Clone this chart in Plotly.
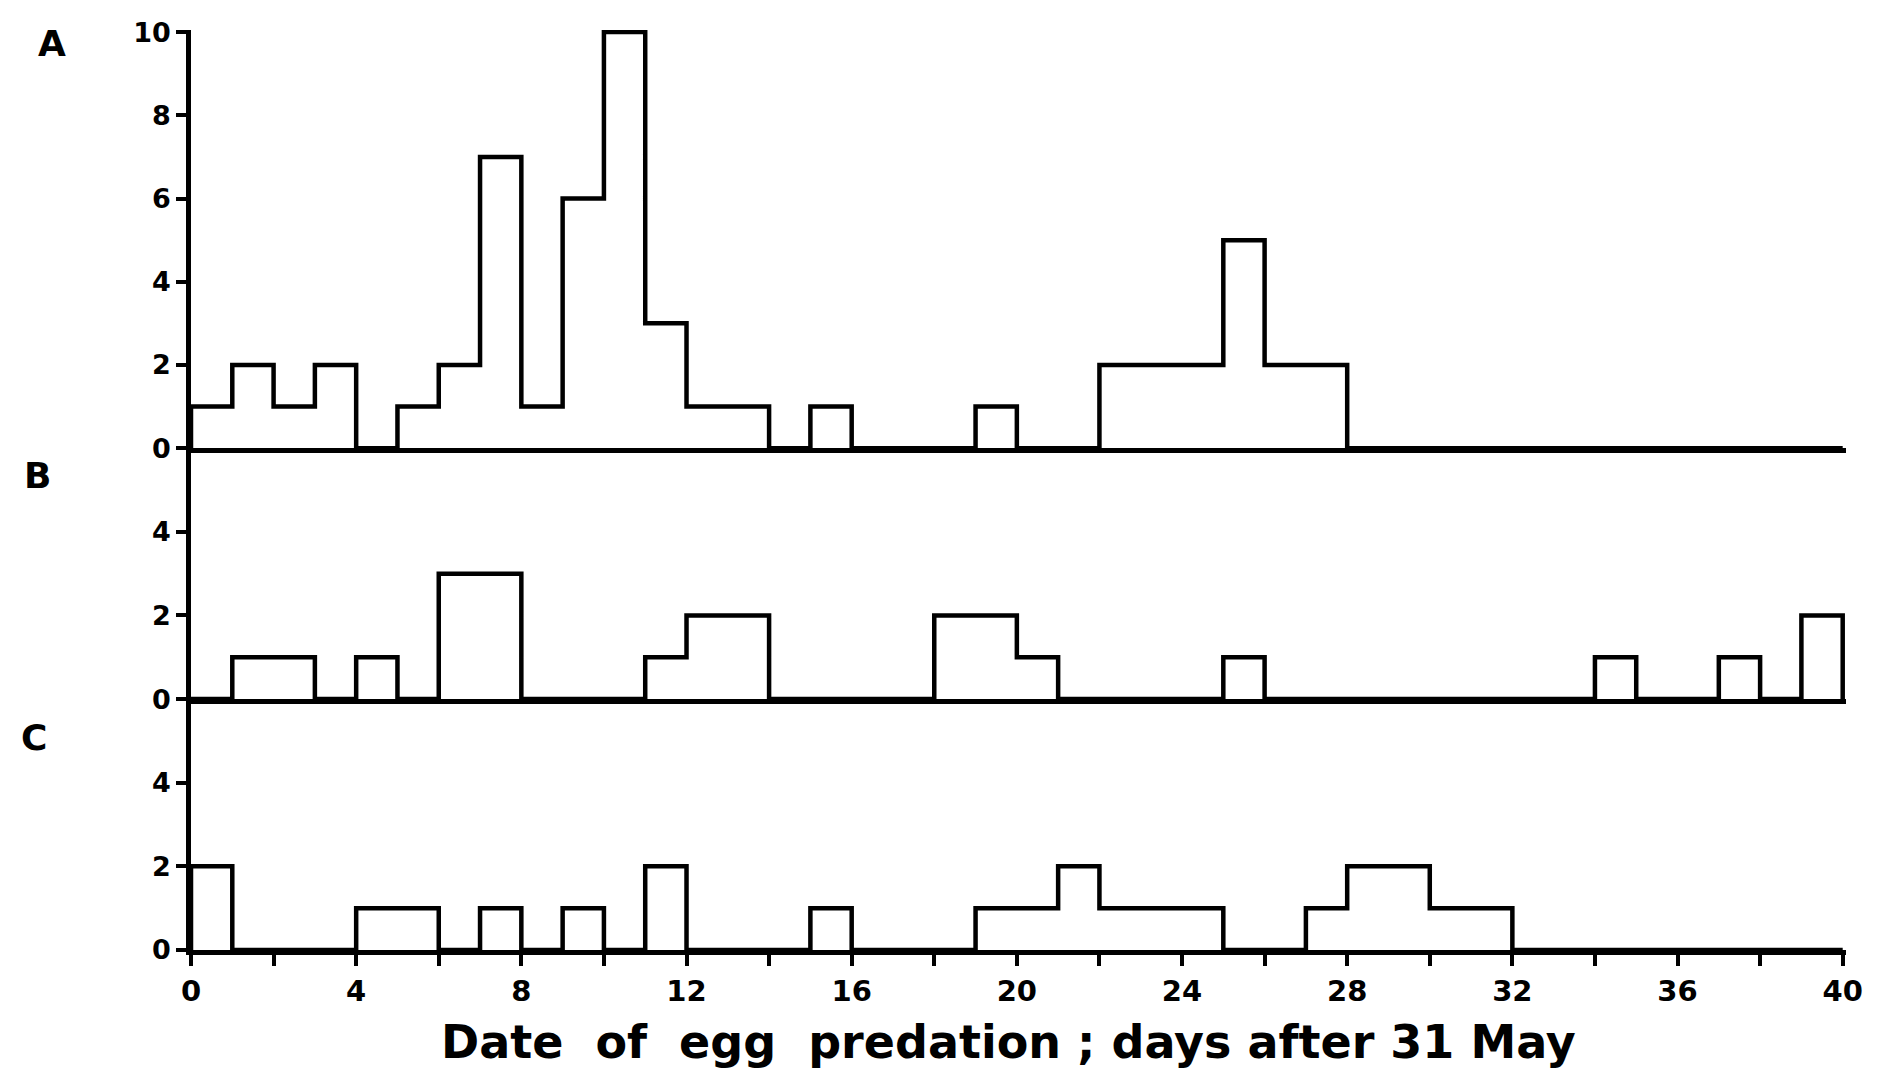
import plotly.graph_objects as go
from plotly.subplots import make_subplots

# ---- data (1-day bins, days after 31 May) ----
bin_starts = list(range(40))
bin_width = 1
counts_A = [1, 2, 1, 2, 0, 1, 2, 7, 1, 6,
            10, 3, 1, 1, 0, 1, 0, 0, 0, 1,
            0, 0, 2, 2, 2, 5, 2, 2, 0, 0,
            0, 0, 0, 0, 0, 0, 0, 0, 0, 0]
counts_B = [0, 1, 1, 0, 1, 0, 3, 3, 0, 0,
            0, 1, 2, 2, 0, 0, 0, 0, 2, 2,
            1, 0, 0, 0, 0, 1, 0, 0, 0, 0,
            0, 0, 0, 0, 1, 0, 0, 1, 0, 2]
counts_C = [2, 0, 0, 0, 1, 1, 0, 1, 0, 1,
            0, 2, 0, 0, 0, 1, 0, 0, 0, 1,
            1, 2, 1, 1, 1, 0, 0, 1, 2, 2,
            1, 1, 0, 0, 0, 0, 0, 0, 0, 0]
panel_labels = ["A", "B", "C"]
x_tickvals = list(range(0, 41, 2))
x_ticktext = [str(v) if v % 4 == 0 else "" for v in x_tickvals]
yticks_A = [0, 2, 4, 6, 8, 10]
yticks_B = [0, 2, 4]
yticks_C = [0, 2, 4]
x_title = "Date\u00a0 of\u00a0 egg\u00a0 predation ; days after 31 May"

FONT = "DejaVu Sans"
BLACK = "#000000"


def step_xy(starts, width, counts):
    edges = list(starts) + [starts[-1] + width]
    xs = [edges[0]] + edges
    ys = [0] + list(counts) + [0]
    return xs, ys


fig = make_subplots(rows=3, cols=1, shared_xaxes=True, vertical_spacing=0,
                    row_heights=[10, 6, 6])

for i, counts in enumerate([counts_A, counts_B, counts_C]):
    xs, ys = step_xy(bin_starts, bin_width, counts)
    fig.add_trace(go.Scatter(x=xs, y=ys, mode="lines", line_shape="hv",
                             line=dict(color=BLACK, width=4.5),
                             showlegend=False, hoverinfo="skip"),
                  row=i + 1, col=1)

tickfont = dict(family=FONT, size=27, color=BLACK, weight="bold")
axis_common = dict(showline=True, linecolor=BLACK, linewidth=4.5,
                   showgrid=False, zeroline=False, ticks="outside",
                   tickcolor=BLACK, tickwidth=3.5, ticklen=10, tickfont=tickfont,
                   automargin=False)

fig.update_xaxes(range=[0, 40.08], **axis_common)
fig.update_xaxes(ticks="", showticklabels=False, row=1, col=1)
fig.update_xaxes(ticks="", showticklabels=False, row=2, col=1)
fig.update_xaxes(tickmode="array", tickvals=x_tickvals, ticktext=x_ticktext,
                 ticklen=11, showticklabels=True,
                 tickfont=dict(family=FONT, size=29, color=BLACK, weight="bold"),
                 row=3, col=1)

fig.update_yaxes(**axis_common)
fig.update_yaxes(range=[0, 10.05], tickmode="array", tickvals=yticks_A, row=1, col=1)
fig.update_yaxes(range=[0, 6], tickmode="array", tickvals=yticks_B, row=2, col=1)
fig.update_yaxes(range=[0, 6], tickmode="array", tickvals=yticks_C, row=3, col=1)

label_pos = [(-0.084, 0.985), (-0.093, 0.516), (-0.095, 0.2315)]
for lab, (ax, ay) in zip(panel_labels, label_pos):
    fig.add_annotation(text=lab, xref="paper", yref="paper", x=ax, y=ay,
                       showarrow=False, xanchor="center", yanchor="middle",
                       font=dict(family=FONT, size=36, color=BLACK, weight="bold"))

fig.add_annotation(text=x_title, xref="paper", yref="paper", x=0.494, y=-0.1,
                   showarrow=False, xanchor="center", yanchor="middle",
                   font=dict(family=FONT, size=46, color=BLACK, weight="bold"))

fig.update_layout(width=1886, height=1073, plot_bgcolor="white",
                  paper_bgcolor="white",
                  margin=dict(l=183, r=48, t=22, b=131))

fig.write_html("out.html")
